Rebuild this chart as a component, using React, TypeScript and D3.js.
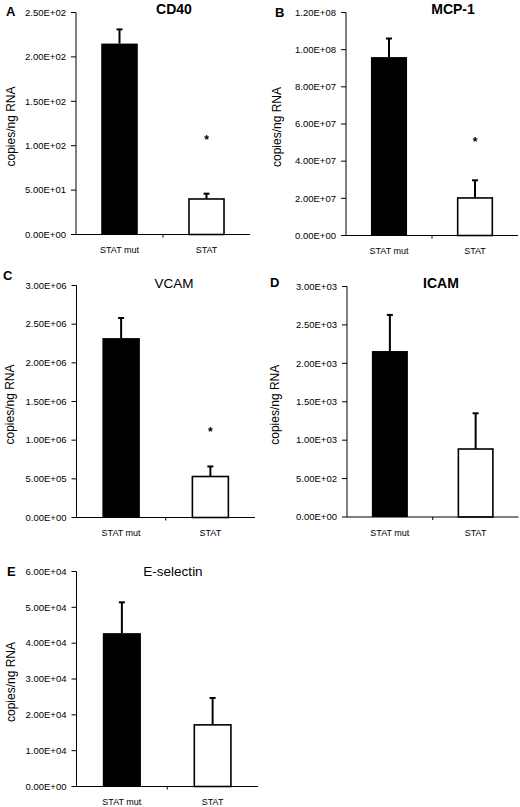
import React from "react";
import * as d3 from "d3";

// ---- data ----
const categories = ["STAT mut", "STAT"];

const cd40Values = [215, 40];
const cd40Errors = [16, 6];
const cd40Star = [null, 110];
const cd40Ticks = [0, 50, 100, 150, 200, 250];

const mcp1Values = [9.6e7, 2.02e7];
const mcp1Errors = [1.0e7, 0.95e7];
const mcp1Star = [null, 5.2e7];
const mcp1Ticks = [0, 2e7, 4e7, 6e7, 8e7, 1e8, 1.2e8];

const vcamValues = [2.32e6, 5.3e5];
const vcamErrors = [2.6e5, 1.3e5];
const vcamStar = [null, 1.14e6];
const vcamTicks = [0, 5e5, 1e6, 1.5e6, 2e6, 2.5e6, 3e6];

const icamValues = [2160, 885];
const icamErrors = [470, 465];
const icamStar = [null, null];
const icamTicks = [0, 500, 1000, 1500, 2000, 2500, 3000];

const eselValues = [4.28e4, 1.72e4];
const eselErrors = [0.86e4, 0.75e4];
const eselStar = [null, null];
const eselTicks = [0, 1e4, 2e4, 3e4, 4e4, 5e4, 6e4];

const yLabel = "copies/ng RNA";

// ---- layout ----
type Panel = {
  letter: string;
  title: string;
  bold: boolean;
  values: number[];
  errors: number[];
  stars: (number | null)[];
  ticks: number[];
  left: number;
  right: number;
  top: number;
  bottom: number;
  letterX: number;
  letterY: number;
  titleX: number;
  titleY: number;
  ylabX: number;
};

const panels: Panel[] = [
  { letter: "A", title: "CD40", bold: true, values: cd40Values, errors: cd40Errors, stars: cd40Star, ticks: cd40Ticks,
    left: 76, right: 250, top: 12.5, bottom: 234.5, letterX: 6, letterY: 16, titleX: 174, titleY: 13.5, ylabX: 11 },
  { letter: "B", title: "MCP-1", bold: true, values: mcp1Values, errors: mcp1Errors, stars: mcp1Star, ticks: mcp1Ticks,
    left: 346, right: 518, top: 12.5, bottom: 235.5, letterX: 275, letterY: 16.5, titleX: 453, titleY: 14, ylabX: 277 },
  { letter: "C", title: "VCAM", bold: false, values: vcamValues, errors: vcamErrors, stars: vcamStar, ticks: vcamTicks,
    left: 76.5, right: 255, top: 285.5, bottom: 517.5, letterX: 3, letterY: 280, titleX: 174, titleY: 288, ylabX: 10 },
  { letter: "D", title: "ICAM", bold: true, values: icamValues, errors: icamErrors, stars: icamStar, ticks: icamTicks,
    left: 347, right: 518.5, top: 286.5, bottom: 517, letterX: 270, letterY: 286.5, titleX: 441, titleY: 288, ylabX: 275 },
  { letter: "E", title: "E-selectin", bold: false, values: eselValues, errors: eselErrors, stars: eselStar, ticks: eselTicks,
    left: 76.5, right: 258, top: 571.5, bottom: 786.5, letterX: 7, letterY: 576, titleX: 173, titleY: 576, ylabX: 11 },
];

const FONT = "'Liberation Sans', Arial, Helvetica, sans-serif";

function fmtE(v: number): string {
  const [m, e] = v.toExponential(2).split("e");
  const sign = e[0];
  const digits = e.slice(1).padStart(2, "0");
  return `${m}E${sign}${digits}`;
}

function PanelChart({ p }: { p: Panel }) {
  const yMax = p.ticks[p.ticks.length - 1];
  const y = d3.scaleLinear().domain([0, yMax]).range([p.bottom, p.top]);
  const x = d3.scaleBand<string>().domain(categories).range([p.left, p.right]).padding(0);
  const barW = x.bandwidth() * 0.42;
  const capW = 6;
  const midTick = x(categories[1]) as number;
  return (
    <g>
      {/* panel letter */}
      <text x={p.letterX} y={p.letterY} fontSize={13} fontWeight="bold" fontFamily={FONT} fill="#000">
        {p.letter}
      </text>
      {/* title */}
      <text x={p.titleX} y={p.titleY} textAnchor="middle" fontSize={p.bold ? 14 : 13.5}
        fontWeight={p.bold ? "bold" : "normal"} fontFamily={FONT} fill="#000">
        {p.title}
      </text>
      {/* y label */}
      <text transform={`translate(${p.ylabX + 4},${(p.top + p.bottom) / 2 + 3}) rotate(-90)`} textAnchor="middle"
        fontSize={12} fontFamily={FONT} fill="#000">
        {yLabel}
      </text>
      {/* bars */}
      {categories.map((c, i) => {
        const cx = (x(c) as number) + x.bandwidth() / 2;
        const v = p.values[i];
        const top = y(v);
        const errTop = y(v + p.errors[i]);
        return (
          <g key={c}>
            <line x1={cx} x2={cx} y1={top} y2={errTop} stroke="#000" strokeWidth={2} />
            <line x1={cx - capW / 2} x2={cx + capW / 2} y1={errTop} y2={errTop} stroke="#000" strokeWidth={2} />
            {i === 0 ? (
              <rect x={cx - barW / 2} y={top} width={barW} height={p.bottom - top} fill="#000" />
            ) : (
              <rect x={cx - barW / 2 + 0.75} y={top} width={barW - 1.5} height={p.bottom - top}
                fill="#fff" stroke="#000" strokeWidth={1.6} />
            )}
            {p.stars[i] != null && (
              <text x={cx} y={y(p.stars[i] as number) + 7} textAnchor="middle" fontSize={12} fontWeight="bold"
                fontFamily={FONT} fill="#000">*</text>
            )}
            <text x={cx} y={p.bottom + 18.5} textAnchor="middle" fontSize={9} fontFamily={FONT} fill="#000">
              {c}
            </text>
          </g>
        );
      })}
      {/* y axis */}
      <line x1={p.left} x2={p.left} y1={p.top} y2={p.bottom} stroke="#000" strokeWidth={1} />
      {p.ticks.map((t) => (
        <g key={t}>
          <line x1={p.left - 5} x2={p.left} y1={y(t)} y2={y(t)} stroke="#000" strokeWidth={1} />
          <text x={p.left - 10} y={y(t) + 3.3} textAnchor="end" fontSize={9.5} fontFamily={FONT} fill="#000">
            {fmtE(t)}
          </text>
        </g>
      ))}
      {/* x axis */}
      <line x1={p.left} x2={p.right} y1={p.bottom} y2={p.bottom} stroke="#000" strokeWidth={1} />
      <line x1={midTick} x2={midTick} y1={p.bottom} y2={p.bottom + 3} stroke="#000" strokeWidth={1} />
    </g>
  );
}

export default function App() {
  return (
    <svg width={520} height={807} style={{ position: "absolute", left: 0, top: 0, background: "#fff" }}>
      <rect x={0} y={0} width={520} height={807} fill="#fff" />
      {panels.map((p) => (
        <PanelChart key={p.letter} p={p} />
      ))}
    </svg>
  );
}
